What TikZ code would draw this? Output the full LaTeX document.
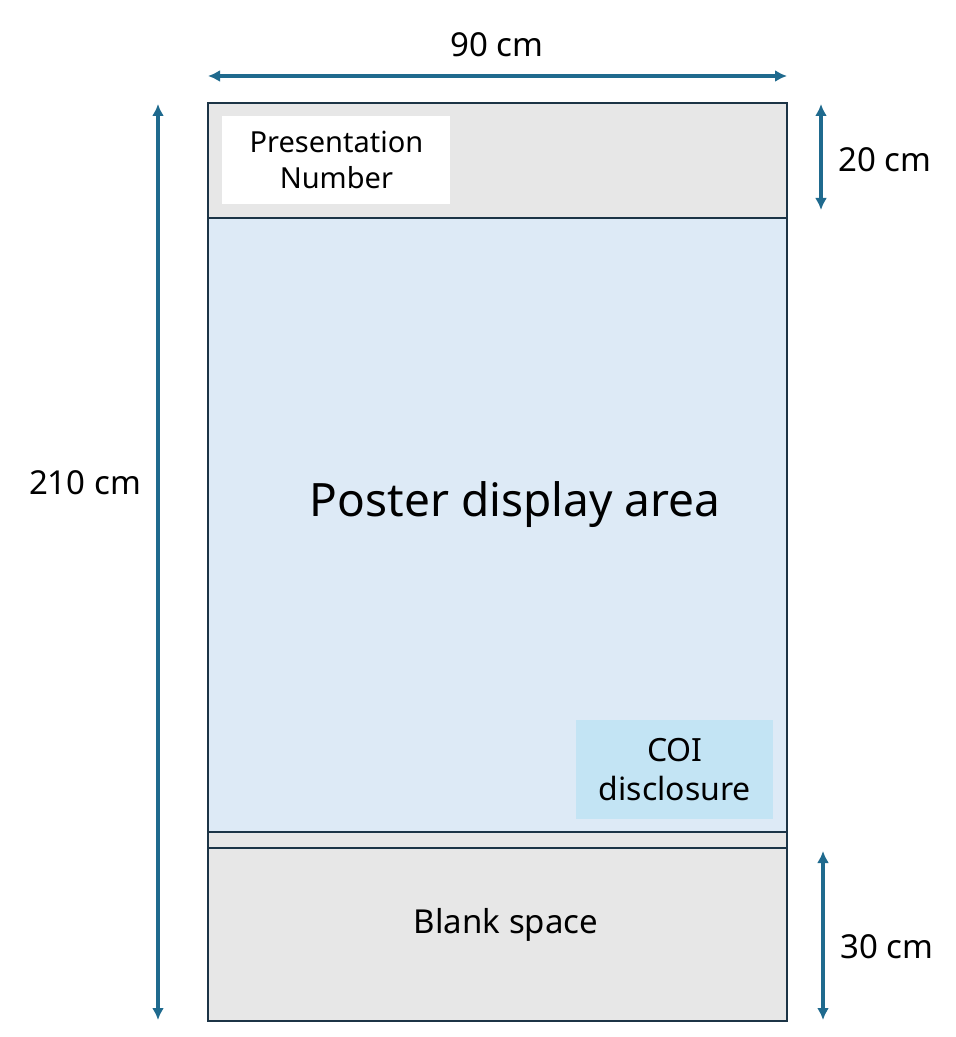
\documentclass[tikz,border=0pt]{standalone}
\usepackage{fontspec}
\setmainfont{Noto Sans}
\usetikzlibrary{positioning,arrows.meta}
\definecolor{Frame}{HTML}{1C3446}
\definecolor{Dim}{HTML}{1F6A8E}
\definecolor{PanelGray}{HTML}{E7E7E7}
\definecolor{PanelBlue}{HTML}{DDEAF6}
\definecolor{TagBlue}{HTML}{C3E4F4}

\begin{document}
\begin{tikzpicture}[x=0.5pt,y=-0.5pt,
  panel/.style={draw=Frame,line width=1.3pt,inner sep=0pt,outer sep=0pt,minimum width=289.5pt},
  tag/.style={inner sep=0pt,align=center,font=\fontsize{14.5}{18}\selectfont},
  dim/.style={{Latex[length=6pt,width=6pt]}-{Latex[length=6pt,width=6pt]},Dim,line width=1.6pt},
  lbl/.style={font=\fontsize{16.5}{20}\selectfont}]
  \useasboundingbox (0,0) rectangle (956,1037);
  % frame of the board, top to bottom
  \node[panel,fill=PanelGray,minimum height=57.5pt,anchor=north west] (header) at (208,103) {};
  \node[panel,fill=PanelBlue,minimum height=307pt,below=0pt of header] (display) {};
  \node[panel,fill=PanelGray,minimum height=8pt,below=0pt of display] (strip) {};
  \node[panel,fill=PanelGray,minimum height=86.5pt,below=0pt of strip] (blank) {};
  % boxes inside
  \node[tag,fill=white,minimum width=114pt,minimum height=44pt,anchor=north west] (number) at (222,116) {Presentation\\Number};
  \node[tag,fill=TagBlue,minimum width=98.5pt,minimum height=49.5pt,anchor=north west,font=\fontsize{16}{19.5}\selectfont] (coi) at (576,720) {COI\\disclosure};
  \node[font=\fontsize{23}{27}\selectfont] (area) at (515,505) {Poster display area};
  \node[lbl] (blanktext) at (506,925) {Blank space};
  % dimensions
  \coordinate (wl) at (208,76);
  \coordinate (wr) at (787,76);
  \coordinate (ht) at (158,104);
  \coordinate (hb) at (158,1020);
  \coordinate (nt) at (821,104);
  \coordinate (nb) at (821,210);
  \coordinate (bt) at (823,851);
  \coordinate (bb) at (823,1020);
  \draw[dim] (wl) -- (wr);
  \draw[dim] (ht) -- (hb);
  \draw[dim] (nt) -- (nb);
  \draw[dim] (bt) -- (bb);
  \node[lbl] (wtext) at (497,45) {90 cm};
  \node[lbl] (htext) at (85,483) {210 cm};
  \node[lbl] (ntext) at (885,160) {20 cm};
  \node[lbl] (btext) at (887,947) {30 cm};
\end{tikzpicture}
\end{document}
